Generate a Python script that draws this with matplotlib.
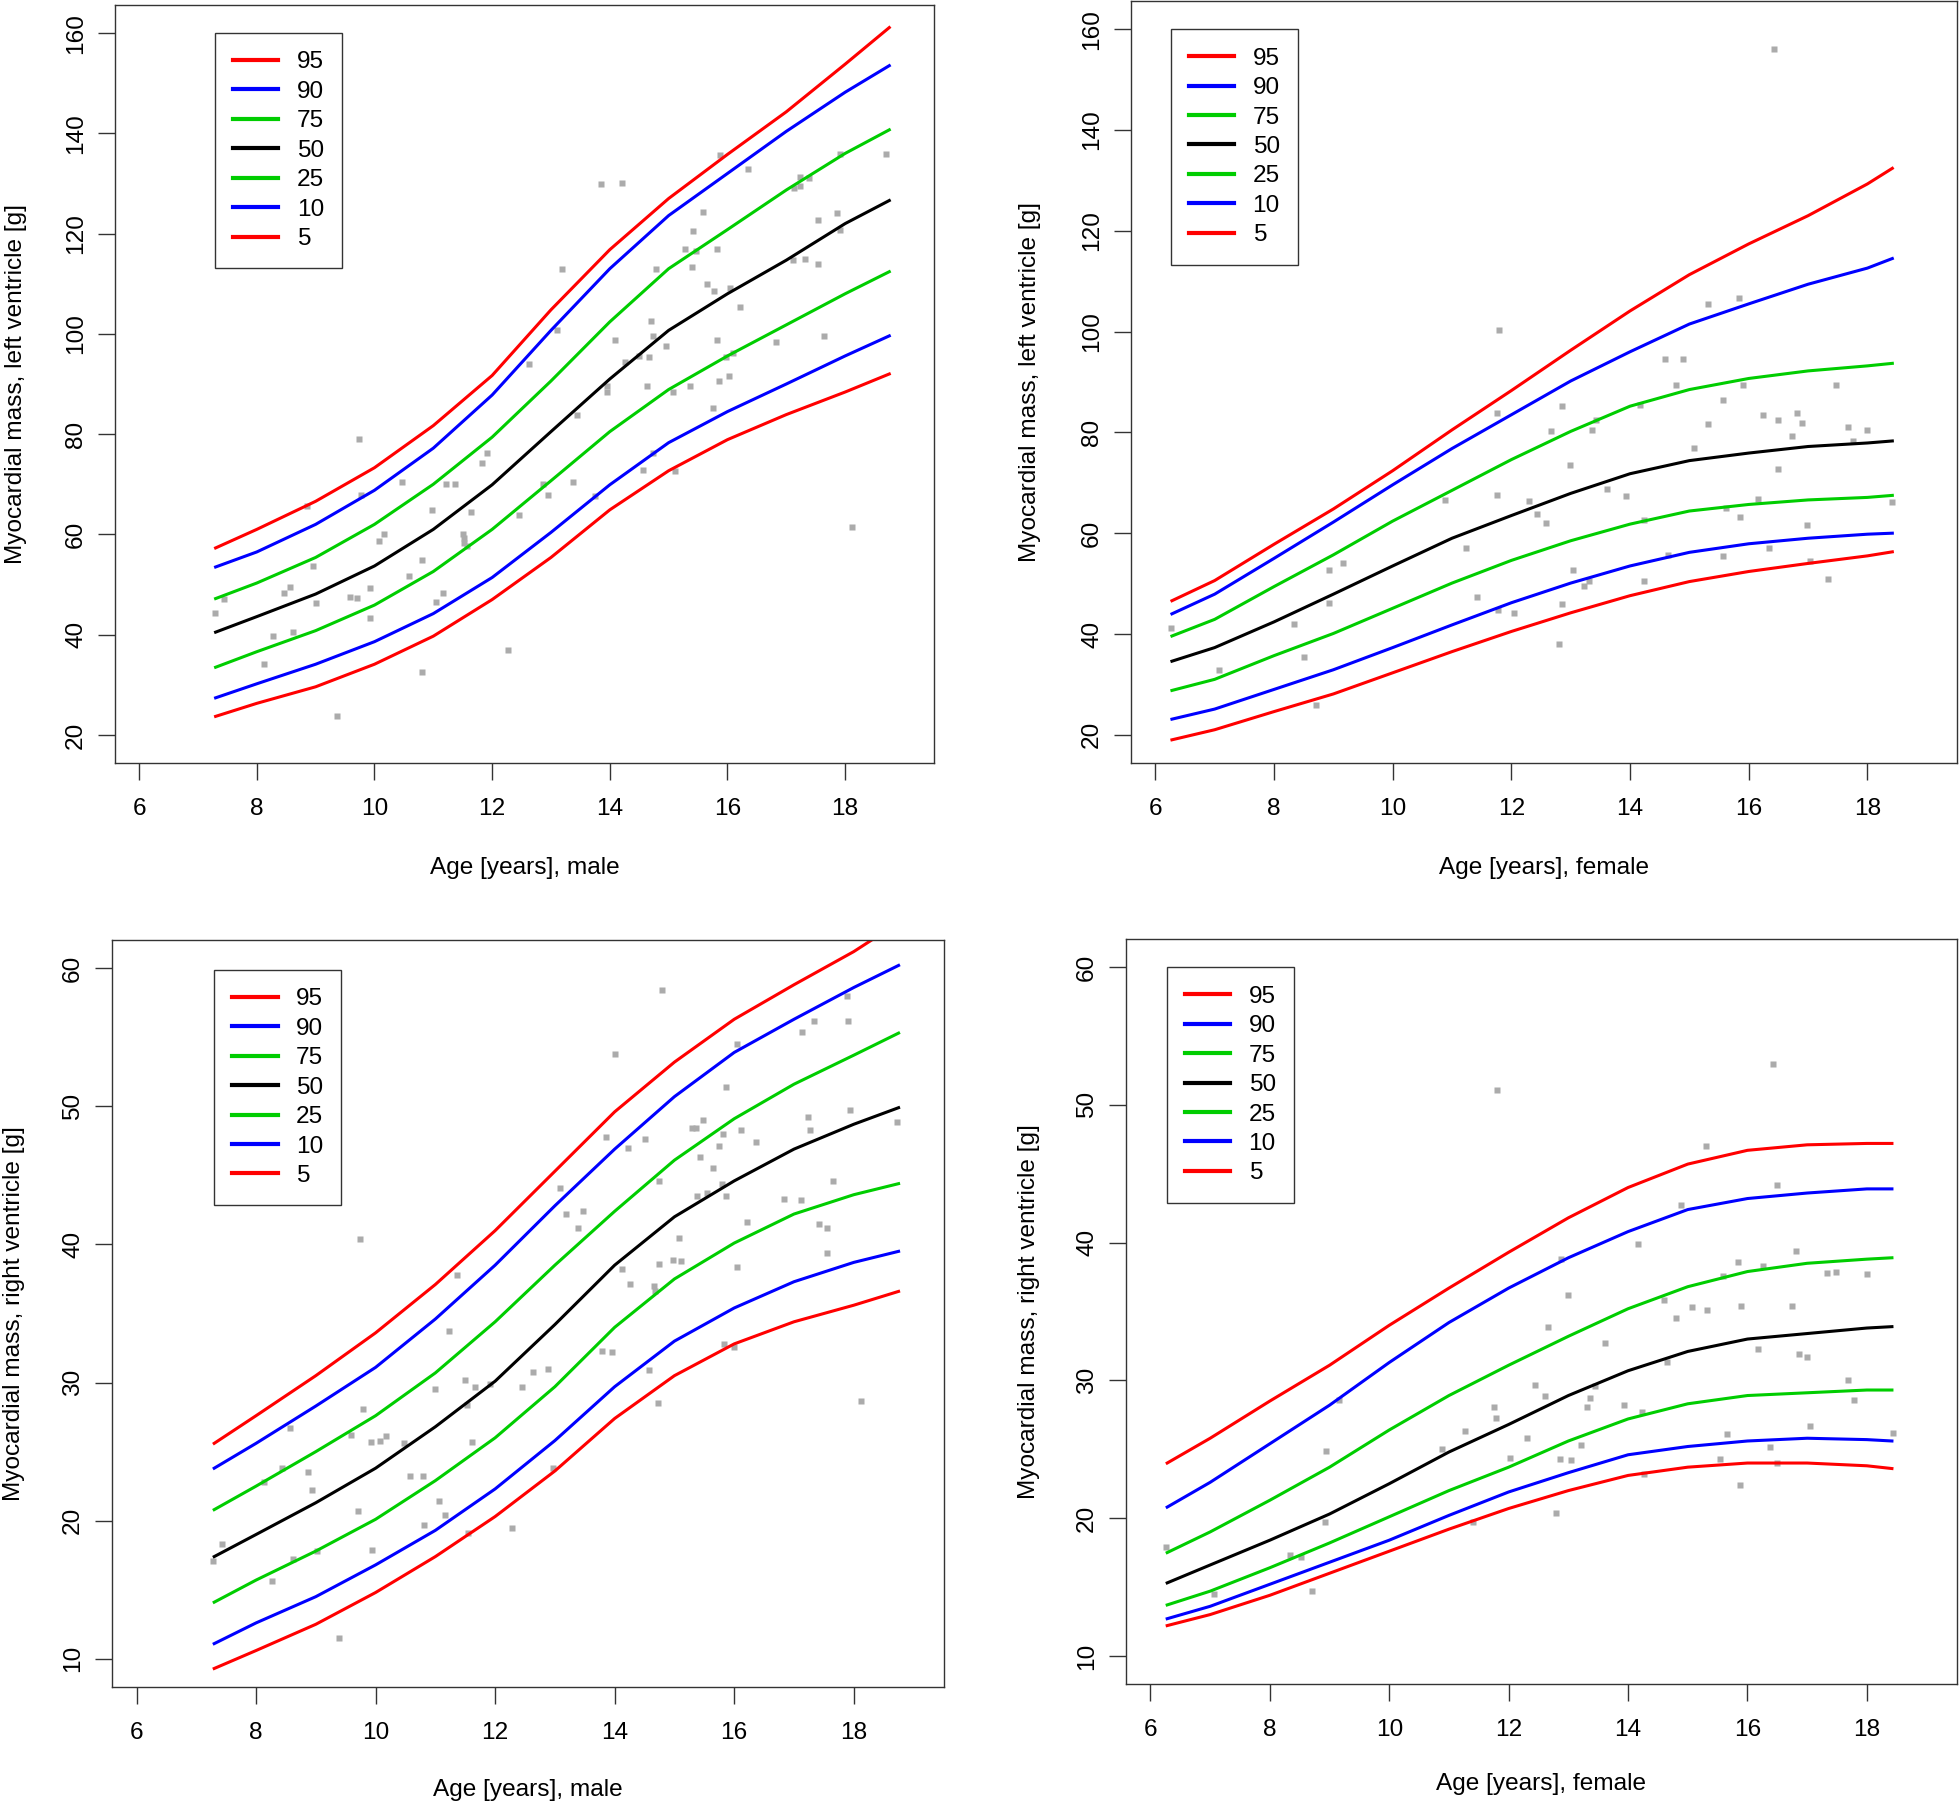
import matplotlib
matplotlib.use("Agg")
import matplotlib.pyplot as plt

plt.rcParams['font.family'] = ['Liberation Sans', 'DejaVu Sans']

# percentile curves
pct_labels = ['95', '90', '75', '50', '25', '10', '5']
pct_colors = ['#FF0000', '#0000FF', '#00CD00', '#000000', '#00CD00', '#0000FF', '#FF0000']

# left ventricle, male
lvm_age = [7.3, 8, 9, 10, 11, 12, 13, 14, 15, 16, 17, 18, 18.75]
lvm_p95 = [57.3, 61.0, 66.6, 73.3, 81.7, 91.7, 104.8, 116.8, 127.0, 135.8, 144.3, 153.8, 161.1]
lvm_p90 = [53.5, 56.5, 62.0, 68.8, 77.2, 87.8, 100.7, 113.0, 123.6, 132.0, 140.4, 148.2, 153.5]
lvm_p75 = [47.2, 50.3, 55.4, 62.0, 70.0, 79.4, 90.6, 102.4, 113.0, 120.8, 128.7, 136.0, 140.7]
lvm_p50 = [40.5, 43.6, 48.1, 53.7, 61.0, 69.9, 80.5, 91.0, 100.7, 108.0, 114.7, 122.0, 126.6]
lvm_p25 = [33.5, 36.6, 40.8, 45.9, 52.6, 61.0, 70.7, 80.5, 88.9, 95.6, 101.8, 108.0, 112.4]
lvm_p10 = [27.4, 30.2, 34.1, 38.6, 44.2, 51.4, 60.4, 69.9, 78.3, 84.5, 90.0, 95.6, 99.6]
lvm_p5 = [23.7, 26.3, 29.6, 34.1, 39.7, 47.0, 55.4, 64.9, 72.7, 78.9, 83.9, 88.4, 92.0]
lvm_points = [(7.29, 44.4), (7.44, 47.2), (8.13, 34.1), (8.27, 39.7), (8.46, 48.4), (8.57, 49.5),
	(8.61, 40.5), (8.86, 65.7), (8.95, 53.7), (9.0, 46.4), (9.37, 23.8), (9.58, 47.5), (9.7, 47.4),
	(9.73, 79.1), (9.77, 67.8), (9.93, 49.4), (9.93, 43.4), (10.08, 58.7), (10.16, 60.1), (10.47, 70.5),
	(10.59, 51.7), (10.81, 54.8), (10.81, 32.6), (10.97, 64.9), (11.05, 46.6), (11.17, 48.4), (11.21, 70.0),
	(11.37, 70.0), (11.5, 60.1), (11.53, 59.3), (11.53, 58.2), (11.58, 57.6), (11.64, 64.5), (11.83, 74.3),
	(11.91, 76.3), (12.27, 36.9), (12.45, 63.8), (12.63, 94.0), (12.87, 70.1), (12.95, 67.9), (13.1, 100.7),
	(13.18, 113.0), (13.37, 70.5), (13.45, 83.9), (13.74, 67.7), (13.85, 129.8), (13.95, 89.7), (13.95, 88.4),
	(14.09, 98.7), (14.2, 130.1), (14.25, 94.4), (14.49, 95.6), (14.56, 72.9), (14.64, 89.7), (14.67, 95.4),
	(14.7, 102.6), (14.74, 99.6), (14.73, 76.3), (14.79, 113.0), (14.95, 97.6), (15.08, 88.4), (15.1, 72.7),
	(15.28, 117.0), (15.36, 89.7), (15.39, 113.3), (15.42, 120.5), (15.46, 116.6), (15.59, 124.4),
	(15.65, 110.0), (15.75, 85.2), (15.77, 108.5), (15.82, 116.9), (15.83, 98.7), (15.86, 90.5),
	(15.87, 135.7), (15.97, 95.3), (16.03, 91.5), (16.05, 109.2), (16.1, 96.2), (16.21, 105.4),
	(16.35, 132.9), (16.83, 98.4), (17.12, 114.7), (17.13, 129.1), (17.23, 131.3), (17.24, 129.4),
	(17.32, 114.9), (17.39, 131.1), (17.54, 122.7), (17.54, 113.9), (17.64, 99.6), (17.86, 124.2),
	(17.92, 135.9), (17.92, 120.8), (18.11, 61.5), (18.7, 135.9)]

# left ventricle, female
lvf_age = [6.28, 7, 8, 9, 10, 11, 12, 13, 14, 15, 16, 17, 18, 18.42]
lvf_p95 = [46.6, 50.6, 57.8, 64.8, 72.4, 80.5, 88.3, 96.3, 104.1, 111.3, 117.4, 123.0, 129.3, 132.4]
lvf_p90 = [44.0, 47.9, 55.0, 62.2, 69.6, 76.8, 83.5, 90.2, 96.0, 101.5, 105.5, 109.4, 112.6, 114.5]
lvf_p75 = [39.6, 42.9, 49.4, 55.7, 62.4, 68.5, 74.6, 80.2, 85.2, 88.5, 90.7, 92.2, 93.2, 93.7]
lvf_p50 = [34.6, 37.3, 42.4, 47.9, 53.5, 59.0, 63.5, 67.9, 71.8, 74.4, 75.9, 77.2, 77.9, 78.3]
lvf_p25 = [28.8, 31.0, 35.7, 40.1, 45.1, 50.1, 54.6, 58.5, 61.8, 64.4, 65.7, 66.6, 67.1, 67.5]
lvf_p10 = [23.1, 25.1, 29.0, 32.9, 37.3, 41.8, 46.2, 50.1, 53.5, 56.2, 57.9, 59.0, 59.8, 60.0]
lvf_p5 = [19.0, 21.0, 24.6, 28.1, 32.3, 36.5, 40.5, 44.2, 47.6, 50.4, 52.4, 54.0, 55.5, 56.3]
lvf_points = [(6.26, 41.2), (7.07, 32.9), (8.34, 42.0), (8.51, 35.5), (8.71, 25.9), (8.92, 52.6),
	(8.92, 46.1), (9.16, 54.0), (10.88, 66.5), (11.23, 57.1), (11.42, 47.4), (11.75, 83.8), (11.75, 67.6),
	(11.78, 44.8), (11.8, 100.3), (12.04, 44.2), (12.3, 66.3), (12.43, 63.9), (12.59, 62.1), (12.66, 80.2),
	(12.8, 38.0), (12.86, 85.2), (12.86, 46.0), (12.98, 73.5), (13.04, 52.7), (13.22, 49.5), (13.3, 50.5),
	(13.36, 80.4), (13.43, 82.4), (13.62, 68.7), (13.93, 67.4), (14.17, 85.5), (14.24, 62.6), (14.24, 50.5),
	(14.59, 94.6), (14.64, 55.7), (14.78, 89.4), (14.89, 94.6), (15.07, 77.0), (15.31, 105.4), (15.31, 81.7),
	(15.57, 86.5), (15.57, 55.4), (15.62, 64.9), (15.83, 106.6), (15.86, 63.3), (15.91, 89.4), (16.16, 66.8),
	(16.24, 83.4), (16.35, 57.0), (16.42, 156.0), (16.49, 82.4), (16.49, 72.8), (16.73, 79.3), (16.81, 83.8),
	(16.89, 81.9), (16.99, 61.7), (17.03, 54.4), (17.34, 50.9), (17.47, 89.4), (17.67, 81.0), (17.76, 78.2),
	(17.99, 80.4), (18.41, 66.1)]

# right ventricle, male
rvm_age = [7.3, 8, 9, 10, 11, 12, 13, 14, 15, 16, 17, 18, 18.75]
rvm_p95 = [25.6, 27.6, 30.5, 33.6, 37.1, 41.0, 45.3, 49.6, 53.2, 56.3, 58.8, 61.2, 63.3]
rvm_p90 = [23.8, 25.6, 28.3, 31.1, 34.6, 38.5, 42.8, 46.9, 50.7, 53.9, 56.3, 58.6, 60.2]
rvm_p75 = [20.8, 22.5, 25.0, 27.6, 30.7, 34.4, 38.5, 42.4, 46.1, 49.1, 51.6, 53.7, 55.3]
rvm_p50 = [17.4, 19.0, 21.3, 23.8, 26.8, 30.1, 34.2, 38.5, 42.0, 44.6, 46.9, 48.7, 49.9]
rvm_p25 = [14.1, 15.7, 17.8, 20.1, 22.9, 26.0, 29.7, 34.0, 37.5, 40.1, 42.2, 43.6, 44.4]
rvm_p10 = [11.1, 12.6, 14.5, 16.8, 19.3, 22.3, 25.8, 29.7, 33.0, 35.4, 37.3, 38.7, 39.5]
rvm_p5 = [9.3, 10.6, 12.5, 14.8, 17.4, 20.3, 23.6, 27.4, 30.5, 32.8, 34.4, 35.6, 36.6]
rvm_points = [(7.28, 17.1), (7.43, 18.3), (8.13, 22.8), (8.27, 15.6), (8.44, 23.8), (8.57, 26.7),
	(8.61, 17.2), (8.87, 23.5), (8.94, 22.2), (9.02, 17.8), (9.38, 11.5), (9.59, 26.2), (9.71, 20.7),
	(9.74, 40.4), (9.79, 28.1), (9.93, 25.7), (9.94, 17.9), (10.08, 25.8), (10.17, 26.1), (10.47, 25.6),
	(10.58, 23.2), (10.8, 23.2), (10.81, 19.7), (10.99, 29.5), (11.06, 21.4), (11.16, 20.4), (11.22, 33.7),
	(11.36, 37.8), (11.5, 30.2), (11.53, 28.4), (11.55, 19.1), (11.61, 25.7), (11.66, 29.7), (11.91, 29.9),
	(12.28, 19.5), (12.45, 29.7), (12.64, 30.8), (12.89, 31.0), (12.96, 23.8), (13.09, 44.1), (13.19, 42.2),
	(13.38, 41.2), (13.47, 42.4), (13.78, 32.3), (13.86, 47.8), (13.96, 32.2), (14.0, 53.8), (14.12, 38.2),
	(14.22, 47.0), (14.26, 37.1), (14.51, 47.6), (14.58, 30.9), (14.65, 37.0), (14.68, 36.6), (14.72, 28.5),
	(14.74, 44.6), (14.75, 38.6), (14.8, 58.4), (14.97, 38.9), (15.08, 40.5), (15.11, 38.8), (15.3, 48.4),
	(15.36, 48.4), (15.38, 43.5), (15.43, 46.3), (15.47, 49.0), (15.54, 43.7), (15.64, 45.5), (15.74, 47.1),
	(15.79, 44.4), (15.82, 48.0), (15.83, 32.8), (15.86, 51.4), (15.87, 43.5), (16.0, 32.6), (16.04, 38.4),
	(16.05, 54.5), (16.12, 48.3), (16.22, 41.6), (16.36, 47.4), (16.84, 43.3), (17.11, 43.2), (17.14, 55.4),
	(17.23, 49.2), (17.27, 48.3), (17.33, 56.2), (17.42, 41.5), (17.55, 41.2), (17.55, 39.4), (17.65, 44.6),
	(17.88, 58.0), (17.91, 56.2), (17.94, 49.7), (18.12, 28.7), (18.72, 48.9)]

# right ventricle, female
rvf_age = [6.28, 7, 8, 9, 10, 11, 12, 13, 14, 15, 16, 17, 18, 18.42]
rvf_p95 = [24.0, 25.8, 28.5, 31.1, 34.0, 36.7, 39.3, 41.8, 44.0, 45.7, 46.7, 47.1, 47.2, 47.2]
rvf_p90 = [20.8, 22.6, 25.4, 28.2, 31.3, 34.2, 36.7, 38.9, 40.8, 42.4, 43.2, 43.6, 43.9, 43.9]
rvf_p75 = [17.5, 19.0, 21.3, 23.7, 26.4, 28.9, 31.1, 33.2, 35.2, 36.8, 37.9, 38.5, 38.8, 38.9]
rvf_p50 = [15.3, 16.6, 18.4, 20.3, 22.5, 24.8, 26.8, 28.9, 30.7, 32.1, 33.0, 33.4, 33.8, 33.9]
rvf_p25 = [13.7, 14.7, 16.4, 18.2, 20.1, 22.0, 23.7, 25.6, 27.2, 28.3, 28.9, 29.1, 29.3, 29.3]
rvf_p10 = [12.7, 13.6, 15.2, 16.8, 18.4, 20.2, 21.9, 23.3, 24.6, 25.2, 25.6, 25.8, 25.7, 25.6]
rvf_p5 = [12.2, 13.0, 14.4, 16.0, 17.6, 19.2, 20.7, 22.0, 23.1, 23.7, 24.0, 24.0, 23.8, 23.6]
rvf_points = [(6.26, 17.9), (7.06, 14.5), (8.34, 17.3), (8.52, 17.2), (8.71, 14.7), (8.94, 24.9),
	(8.92, 19.7), (9.16, 28.6), (10.89, 25.0), (11.27, 26.3), (11.4, 19.7), (11.76, 28.1), (11.78, 27.3),
	(11.81, 51.1), (12.03, 24.4), (12.31, 25.8), (12.44, 29.7), (12.61, 28.9), (12.66, 33.9), (12.79, 20.4),
	(12.86, 24.3), (12.88, 38.8), (12.99, 36.2), (13.05, 24.2), (13.22, 25.3), (13.31, 28.1), (13.37, 28.7),
	(13.45, 29.6), (13.62, 32.7), (13.93, 28.2), (14.16, 39.9), (14.24, 27.7), (14.26, 23.2), (14.61, 35.8),
	(14.66, 31.3), (14.8, 34.5), (14.88, 42.7), (15.07, 35.3), (15.31, 47.0), (15.33, 35.1), (15.54, 24.3),
	(15.59, 37.6), (15.65, 26.1), (15.84, 38.6), (15.87, 22.4), (15.9, 35.4), (16.18, 32.3), (16.26, 38.3),
	(16.37, 25.2), (16.43, 53.0), (16.5, 44.2), (16.5, 24.0), (16.75, 35.4), (16.81, 39.4), (16.87, 31.9),
	(17.0, 31.7), (17.05, 26.7), (17.33, 37.8), (17.49, 37.9), (17.68, 30.0), (17.78, 28.6), (18.0, 37.7),
	(18.43, 26.2)]

FS = 17.6
AXCOL = '#333333'


def draw_panel(fig, rect, ages, curves, points, ylim, yticks, xlabel, ylabel, leg_xy, ylab_x, xlab_y):
	ax = fig.add_axes(rect)
	px = [p[0] for p in points]
	py = [p[1] for p in points]
	ax.plot(px, py, ls='none', marker='s', ms=5.0, mfc='#ABABAB', mec='none', zorder=1)
	handles = []
	for vals, col in zip(curves, pct_colors):
		h, = ax.plot(ages, vals, color=col, lw=2.2, zorder=2, solid_joinstyle='round')
		handles.append(h)

	ax.set_xlim(5.59, 19.51)
	ax.set_ylim(*ylim)
	ax.set_xticks([6, 8, 10, 12, 14, 16, 18])
	ax.set_yticks(yticks)
	ax.tick_params(axis='both', direction='out', length=12, width=1.0, color=AXCOL, labelsize=FS)
	ax.tick_params(axis='x', pad=13)
	ax.tick_params(axis='y', pad=8)
	for lab in ax.get_yticklabels():
		lab.set_rotation(90)
		lab.set_va('center')
	for s in ax.spines.values():
		s.set_color(AXCOL)
		s.set_linewidth(1.0)

	ax.set_xlabel(xlabel, fontsize=FS)
	ax.set_ylabel(ylabel, fontsize=FS)
	ax.xaxis.set_label_coords(0.5, xlab_y)
	ax.yaxis.set_label_coords(ylab_x, 0.5)

	leg = ax.legend(handles, pct_labels, loc='upper left', bbox_to_anchor=leg_xy, borderaxespad=0,
		fancybox=False, framealpha=1, edgecolor=AXCOL, fontsize=FS, handlelength=1.85,
		handletextpad=0.75, labelspacing=0.3, borderpad=0.75)
	leg.get_frame().set_linewidth(1.0)
	for ln in leg.get_lines():
		ln.set_linewidth(3.0)
	return ax


W, H = 1959, 1804
fig = plt.figure(figsize=(W / 100, H / 100), dpi=100)


def rect(l, r, t, b):
	return [l / W, 1 - b / H, (r - l) / W, (b - t) / H]


draw_panel(fig, rect(115, 934, 5, 763), lvm_age,
	[lvm_p95, lvm_p90, lvm_p75, lvm_p50, lvm_p25, lvm_p10, lvm_p5], lvm_points,
	(14.4, 165.6), [20, 40, 60, 80, 100, 120, 140, 160],
	'Age [years], male', 'Myocardial mass, left ventricle [g]', (0.122, 0.963), -0.108, -0.124)

draw_panel(fig, rect(1131, 1957, 1, 763), lvf_age,
	[lvf_p95, lvf_p90, lvf_p75, lvf_p50, lvf_p25, lvf_p10, lvf_p5], lvf_points,
	(14.4, 165.6), [20, 40, 60, 80, 100, 120, 140, 160],
	'Age [years], female', 'Myocardial mass, left ventricle [g]', (0.048, 0.963), -0.109, -0.124)

draw_panel(fig, rect(112, 944, 940, 1687), rvm_age,
	[rvm_p95, rvm_p90, rvm_p75, rvm_p50, rvm_p25, rvm_p10, rvm_p5], rvm_points,
	(7.96, 62.04), [10, 20, 30, 40, 50, 60],
	'Age [years], male', 'Myocardial mass, right ventricle [g]', (0.1226, 0.960), -0.105, -0.123)

draw_panel(fig, rect(1126, 1957, 939, 1684), rvf_age,
	[rvf_p95, rvf_p90, rvf_p75, rvf_p50, rvf_p25, rvf_p10, rvf_p5], rvf_points,
	(7.96, 62.04), [10, 20, 30, 40, 50, 60],
	'Age [years], female', 'Myocardial mass, right ventricle [g]', (0.049, 0.962), -0.104, -0.119)

fig.savefig('out.png', dpi=100, facecolor='white')
